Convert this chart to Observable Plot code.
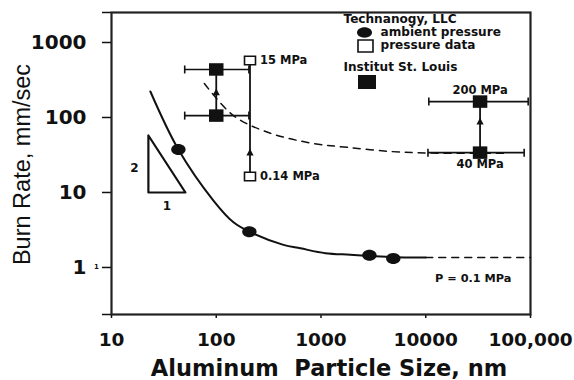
<!DOCTYPE html>
<html><head><meta charset="utf-8">
<script src="https://cdn.jsdelivr.net/npm/d3@7"></script>
<script src="https://cdn.jsdelivr.net/npm/@observablehq/plot@0.6"></script>
<style>
html,body{margin:0;padding:0;background:#fff;}
#chart svg{display:block;}
#chart g[aria-label="y-axis tick label"]{font-size:20px;}
#chart g[aria-label="x-axis tick label"]{font-size:18.5px;}
</style></head><body><div id="chart"></div>
<script>
// ---- data ----
const xTicks = [10, 100, 1000, 10000, 100000];
const xTickLabels = ["10", "100", "1000", "10000", "100,000"];
const yTicks = [1, 10, 100, 1000];
const yTickLabels = ["1", "10", "100", "1000"];
const xDomain = [10, 100000];
const yDomain = [0.236, 2512];

// Technanogy fit curve (ambient pressure)
const fitSize = [23.5, 43.5, 94, 146, 207, 438, 636, 1100, 1900, 3000, 5000, 10000];
const fitRate = [222, 37.4, 7.8, 4.0, 3.0, 2.0, 1.8, 1.55, 1.48, 1.42, 1.37, 1.36];
// extrapolation, P = 0.1 MPa
const extrapSize = [10000, 100000];
const extrapRate = [1.36, 1.36];
// dashed trend through pressure data
const trendSize = [77, 146, 315, 845, 1790, 4600, 10350, 60000];
const trendRate = [284, 106, 63, 45, 40, 35.2, 33.6, 33.5];
// Technanogy, ambient pressure
const ambientSize = [43.5, 207, 2900, 4900];
const ambientRate = [37.4, 3.0, 1.45, 1.32];
// Technanogy, pressure data
const pressureSize = [210, 210];
const pressureRate = [575, 16.3];
const pressureLabels = ["15 MPa", "0.14 MPa"];
// Institut St. Louis
const islSize = [100, 100, 33000, 33000];
const islRate = [437, 106, 163, 34];
const islLow = [50, 50, 10700, 10500];
const islHigh = [205, 205, 95000, 87000];
const islLabels = ["", "", "200 MPa", "40 MPa"];
// arrows on pressure connectors
const arrowSize = [100, 210, 33000];
const arrowRate = [215, 34, 88];
// slope triangle 2:1
const slopeSize = [22.5, 22.5, 50.8, 22.5];
const slopeRate = [57.5, 10, 10, 57.5];

// ---- tables ----
const fit = fitSize.map((x, i) => ({x, y: fitRate[i]}));
const extrap = extrapSize.map((x, i) => ({x, y: extrapRate[i]}));
const trend = trendSize.map((x, i) => ({x, y: trendRate[i]}));
const ambient = ambientSize.map((x, i) => ({x, y: ambientRate[i]}));
const pressure = pressureSize.map((x, i) => ({x, y: pressureRate[i], label: pressureLabels[i]}));
const isl = islSize.map((x, i) => ({x, y: islRate[i], lo: islLow[i], hi: islHigh[i], label: islLabels[i]}));
const arrows = arrowSize.map((x, i) => ({x, y: arrowRate[i]}));
const slope = slopeSize.map((x, i) => ({x, y: slopeRate[i]}));
const connectors = [
  {x1: islSize[0], y1: islRate[0], x2: islSize[1], y2: islRate[1]},
  {x1: pressureSize[0], y1: pressureRate[0], x2: pressureSize[1], y2: pressureRate[1]},
  {x1: islSize[2], y1: islRate[2], x2: islSize[3], y2: islRate[3]}
];
const caps = isl.flatMap(d => [{x: d.lo, y: d.y}, {x: d.hi, y: d.y}]);

// ---- custom symbols ----
const K = 0.5523;
const ellipse = (rx, ry) => ({draw(c) {
  c.moveTo(rx, 0);
  c.bezierCurveTo(rx, ry * K, rx * K, ry, 0, ry);
  c.bezierCurveTo(-rx * K, ry, -rx, ry * K, -rx, 0);
  c.bezierCurveTo(-rx, -ry * K, -rx * K, -ry, 0, -ry);
  c.bezierCurveTo(rx * K, -ry, rx, -ry * K, rx, 0);
  c.closePath();
}});
const rect = (w, h) => ({draw(c) { c.rect(-w / 2, -h / 2, w, h); }});
const vbar = (h) => ({draw(c) { c.moveTo(0, -h / 2); c.lineTo(0, h / 2); }});
const tri = (s) => ({draw(c) { c.moveTo(0, -s); c.lineTo(s * 0.9, s * 0.7); c.lineTo(-s * 0.9, s * 0.7); c.closePath(); }});

const ink = "#111";
const F = "DejaVu Sans";
const legendText = (t, dx, dy) => Plot.text([t], {frameAnchor: "top-left", dx, dy, textAnchor: "start", lineAnchor: "middle", fontSize: 12.1, fill: ink});

const chart = Plot.plot({
  width: 574,
  height: 380,
  marginLeft: 111,
  marginRight: 44,
  marginTop: 12,
  marginBottom: 66,
  style: {fontFamily: F, fontWeight: "bold", color: ink, background: "#fff"},
  x: {type: "log", domain: xDomain, axis: null},
  y: {type: "log", domain: yDomain, axis: null},
  marks: [
    Plot.axisX({ticks: xTicks, tickFormat: d => xTickLabels[xTicks.indexOf(d)], tickSize: 4, tickPadding: 14, label: null, stroke: ink, strokeWidth: 1.5}),
    Plot.axisY({ticks: [yDomain[0], ...yTicks, yDomain[1]], tickFormat: d => { const i = yTicks.indexOf(d); return i < 0 ? "" : yTickLabels[i]; }, tickSize: 9, tickPadding: 16, label: null, stroke: ink, strokeWidth: 1.5}),
    Plot.frame({stroke: "#222", strokeWidth: 2.2}),
    // slope triangle
    Plot.line(slope, {x: "x", y: "y", stroke: ink, strokeWidth: 2.2}),
    Plot.text(["2"], {x: slopeSize[0], y: Math.sqrt(slopeRate[0] * slopeRate[1]), dx: -14, dy: 4, fontSize: 12, fill: ink}),
    Plot.text(["1"], {x: Math.sqrt(slopeSize[1] * slopeSize[2]), y: slopeRate[1], dy: 14, fontSize: 12, fill: ink}),
    // curves
    Plot.line(fit, {x: "x", y: "y", curve: "catmull-rom", stroke: ink, strokeWidth: 2}),
    Plot.line(extrap, {x: "x", y: "y", stroke: ink, strokeWidth: 1.5, strokeDasharray: "7,6"}),
    Plot.line(trend, {x: "x", y: "y", curve: "catmull-rom", stroke: ink, strokeWidth: 1.5, strokeDasharray: "7,6"}),
    // connectors & error bars
    Plot.link(connectors, {x1: "x1", y1: "y1", x2: "x2", y2: "y2", stroke: ink, strokeWidth: 1.8}),
    Plot.link(isl, {x1: "lo", x2: "hi", y1: "y", y2: "y", stroke: ink, strokeWidth: 1.6}),
    Plot.dot(caps, {x: "x", y: "y", symbol: vbar(8), stroke: ink, strokeWidth: 1.6, fill: "none"}),
    Plot.dot(arrows, {x: "x", y: "y", symbol: tri(4), fill: ink, stroke: "none"}),
    // points
    Plot.dot(ambient, {x: "x", y: "y", symbol: ellipse(7.2, 5.5), fill: ink, stroke: "none"}),
    Plot.dot(pressure, {x: "x", y: "y", symbol: rect(11, 8.5), fill: "#fff", stroke: ink, strokeWidth: 1.6}),
    Plot.dot(isl, {x: "x", y: "y", symbol: rect(14.5, 12.5), fill: ink, stroke: "none"}),
    // point labels
    Plot.text(pressure, {x: "x", y: "y", text: "label", dx: 10, textAnchor: "start", fontSize: 11.5, fill: ink}),
    Plot.text(isl.filter(d => d.label === "200 MPa"), {x: "x", y: "y", text: "label", dy: -11, fontSize: 11.5, fill: ink}),
    Plot.text(isl.filter(d => d.label === "40 MPa"), {x: "x", y: "y", text: "label", dy: 12, fontSize: 11.5, fill: ink}),
    Plot.text(["P = 0.1 MPa"], {x: 28400, y: extrapRate[0], dy: 21, fontSize: 11.3, fill: ink}),
    Plot.text(["1"], {x: xDomain[0], y: 1, dx: -15, dy: -1, fontSize: 7, fill: ink}),
    // legend
    legendText("Technanogy, LLC", 232, 7),
    Plot.dot([0], {frameAnchor: "top-left", dx: 253, dy: 20, symbol: ellipse(7.5, 5.2), fill: ink, stroke: "none"}),
    legendText("ambient pressure", 269, 20),
    Plot.dot([0], {frameAnchor: "top-left", dx: 254, dy: 33.5, symbol: rect(15, 12), fill: "#fff", stroke: ink, strokeWidth: 1.6}),
    legendText("pressure data", 269, 32.5),
    legendText("Institut St. Louis", 232, 55),
    Plot.dot([0], {frameAnchor: "top-left", dx: 255.5, dy: 69.5, symbol: rect(18, 14), fill: ink, stroke: "none"}),
    // axis titles
    Plot.text(["Aluminum  Particle Size, nm"], {frameAnchor: "bottom", textAnchor: "middle", lineAnchor: "middle", dx: 8, dy: 54, fontSize: 22.5, fill: ink}),
    Plot.text(["Burn Rate, mm/sec"], {frameAnchor: "left", textAnchor: "middle", lineAnchor: "middle", rotate: -90, dx: -89, dy: 1, fontSize: 23.5, fontWeight: "normal", fontFamily: "Liberation Sans", fill: ink})
  ]
});
document.getElementById("chart").appendChild(chart);
</script></body></html>
